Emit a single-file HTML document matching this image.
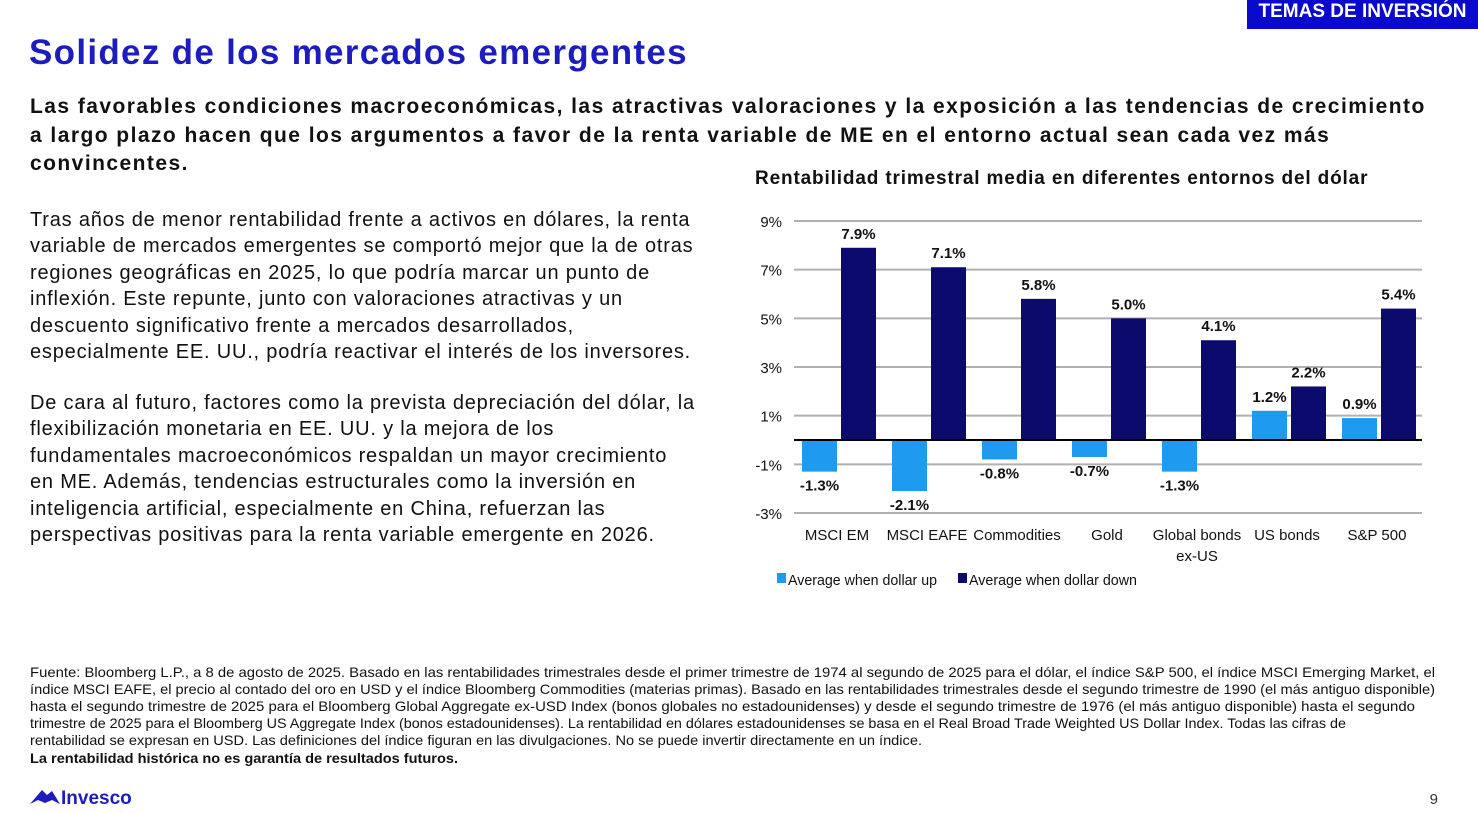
<!DOCTYPE html>
<html><head><meta charset="utf-8"><style>
body{margin:0;width:1478px;height:813px;background:#fff;position:relative;overflow:hidden;font-family:"Liberation Sans",Arial,sans-serif;}
.a{position:absolute;white-space:nowrap;}
.b{font-size:20px;color:#111;left:30px;letter-spacing:0.8px;}
.s{font-size:21px;font-weight:bold;color:#111;left:30px;letter-spacing:1.45px;}
</style></head><body>
<div class="a" style="left:1247px;top:0;width:231px;height:29px;background:#0a0acc;color:#fff;font-weight:bold;font-size:19px;line-height:24px;text-align:center;">TEMAS DE INVERSIÓN</div>
<div class="a" style="left:29px;top:33px;font-size:35px;font-weight:bold;color:#1c1cbf;letter-spacing:1.3px;">Solidez de los mercados emergentes</div>
<div class="a s" style="top:93px;line-height:28.5px;">Las favorables condiciones macroeconómicas, las atractivas valoraciones y la exposición a las tendencias de crecimiento<br>a largo plazo hacen que los argumentos a favor de la renta variable de ME en el entorno actual sean cada vez más<br>convincentes.</div>
<div class="a b" style="top:207px;line-height:26.4px;">Tras años de menor rentabilidad frente a activos en dólares, la renta<br>variable de mercados emergentes se comportó mejor que la de otras<br>regiones geográficas en 2025, lo que podría marcar un punto de<br>inflexión. Este repunte, junto con valoraciones atractivas y un<br>descuento significativo frente a mercados desarrollados,<br>especialmente EE. UU., podría reactivar el interés de los inversores.</div>
<div class="a b" style="top:390px;line-height:26.4px;">De cara al futuro, factores como la prevista depreciación del dólar, la<br>flexibilización monetaria en EE. UU. y la mejora de los<br>fundamentales macroeconómicos respaldan un mayor crecimiento<br>en ME. Además, tendencias estructurales como la inversión en<br>inteligencia artificial, especialmente en China, refuerzan las<br>perspectivas positivas para la renta variable emergente en 2026.</div>
<div class="a" style="left:755px;top:168px;font-size:19px;font-weight:bold;color:#111;letter-spacing:0.85px;">Rentabilidad trimestral media en diferentes entornos del dólar</div>
<svg class="a" style="left:0;top:0" width="1478" height="813">
<g id="grid"></g><g id="bars"></g><g id="labels"></g>
<g font-family="Liberation Sans,Arial,sans-serif" font-size="15" fill="#111">
<rect x="777" y="573" width="9" height="10" fill="#1e9af0"/>
<text x="788" y="585" textLength="149" lengthAdjust="spacingAndGlyphs">Average when dollar up</text>
<rect x="958" y="573" width="9" height="10" fill="#0b0b6e"/>
<text x="969" y="585" textLength="168" lengthAdjust="spacingAndGlyphs">Average when dollar down</text>
</g>
<g font-family="Liberation Sans,Arial,sans-serif" font-size="14" fill="#111">
<text x="30" y="677" textLength="1405" lengthAdjust="spacingAndGlyphs">Fuente: Bloomberg L.P., a 8 de agosto de 2025. Basado en las rentabilidades trimestrales desde el primer trimestre de 1974 al segundo de 2025 para el dólar, el índice S&amp;P 500, el índice MSCI Emerging Market, el</text>
<text x="30" y="694" textLength="1405" lengthAdjust="spacingAndGlyphs">índice MSCI EAFE, el precio al contado del oro en USD y el índice Bloomberg Commodities (materias primas). Basado en las rentabilidades trimestrales desde el segundo trimestre de 1990 (el más antiguo disponible)</text>
<text x="30" y="711" textLength="1385" lengthAdjust="spacingAndGlyphs">hasta el segundo trimestre de 2025 para el Bloomberg Global Aggregate ex-USD Index (bonos globales no estadounidenses) y desde el segundo trimestre de 1976 (el más antiguo disponible) hasta el segundo</text>
<text x="30" y="728" textLength="1316" lengthAdjust="spacingAndGlyphs">trimestre de 2025 para el Bloomberg US Aggregate Index (bonos estadounidenses). La rentabilidad en dólares estadounidenses se basa en el Real Broad Trade Weighted US Dollar Index. Todas las cifras de</text>
<text x="30" y="745" textLength="892" lengthAdjust="spacingAndGlyphs">rentabilidad se expresan en USD. Las definiciones del índice figuran en las divulgaciones. No se puede invertir directamente en un índice.</text>
<text x="30" y="763" font-weight="bold" textLength="428" lengthAdjust="spacingAndGlyphs">La rentabilidad histórica no es garantía de resultados futuros.</text>
</g>
<g>
<path d="M30 804 L42 790 L47 795 L52 791 L60 804 L52 800 L45 803 L38 800 Z" fill="#1c1cbf"/>
<text x="61" y="804" font-family="Liberation Sans,Arial,sans-serif" font-size="19" font-weight="bold" fill="#1c1cbf">Invesco</text>
</g>
<text x="1438" y="804" text-anchor="end" font-family="Liberation Sans,Arial,sans-serif" font-size="15" fill="#333">9</text>
</svg>
<script>
const categories=["MSCI EM","MSCI EAFE","Commodities","Gold","Global bonds|ex-US","US bonds","S&P 500"];
const upValues=[-1.3,-2.1,-0.8,-0.7,-1.3,1.2,0.9];
const downValues=[7.9,7.1,5.8,5.0,4.1,2.2,5.4];
const ticks=[9,7,5,3,1,-1,-3];
const NS="http://www.w3.org/2000/svg";
const x0=794,x1=1424,yTop=221,yBot=513,vMax=9,vMin=-3;
const y=v=>yTop+(vMax-v)*(yBot-yTop)/(vMax-vMin);
const band=(x1-x0)/categories.length;
const cx=i=>x0+band*(i+0.5);
function mk(tag,attrs,parent){const e=document.createElementNS(NS,tag);for(const k in attrs)e.setAttribute(k,attrs[k]);parent.appendChild(e);return e;}
const G=document.getElementById('grid'),B=document.getElementById('bars'),L=document.getElementById('labels');
const F="Liberation Sans,Arial,sans-serif";
ticks.forEach(t=>{
 const ln=mk('line',{x1:x0,x2:x1-2,y1:y(t),y2:y(t),stroke:'#b0b0b0','stroke-width':2},G);
 
 
 const tx=mk('text',{x:782,y:y(t)+6,'text-anchor':'end','font-family':F,'font-size':15,fill:'#111'},G);
 tx.textContent=t+'%';
 
 
});
const bw=35;
function bar(v,xl,color,name){
 const r=mk('rect',{x:xl,y:Math.min(y(v),y(0)),width:bw,height:Math.abs(y(v)-y(0)),fill:color},B);
 
 
 const t=mk('text',{x:xl+bw/2,y:v>=0?y(v)-9:y(v)+19,'text-anchor':'middle','font-family':F,'font-size':15,'font-weight':'bold',fill:'#111'},L);
 t.textContent=v.toFixed(1)+'%';
 
 
}
categories.forEach((c,i)=>{
 bar(upValues[i],cx(i)-bw-2,'#1e9af0','bar-dollar-up');
 bar(downValues[i],cx(i)+2,'#0b0b6e','bar-dollar-down');
 c.split('|').forEach((p,j)=>{
  const t=mk('text',{x:cx(i)-2,y:540+j*21,'text-anchor':'middle','font-family':F,'font-size':15,fill:'#111'},L);
  t.textContent=p;
  
  
 });
});
const ax=mk('line',{x1:x0,x2:x1-2,y1:y(0),y2:y(0),stroke:'#000','stroke-width':2},B);


</script>
</body></html>
